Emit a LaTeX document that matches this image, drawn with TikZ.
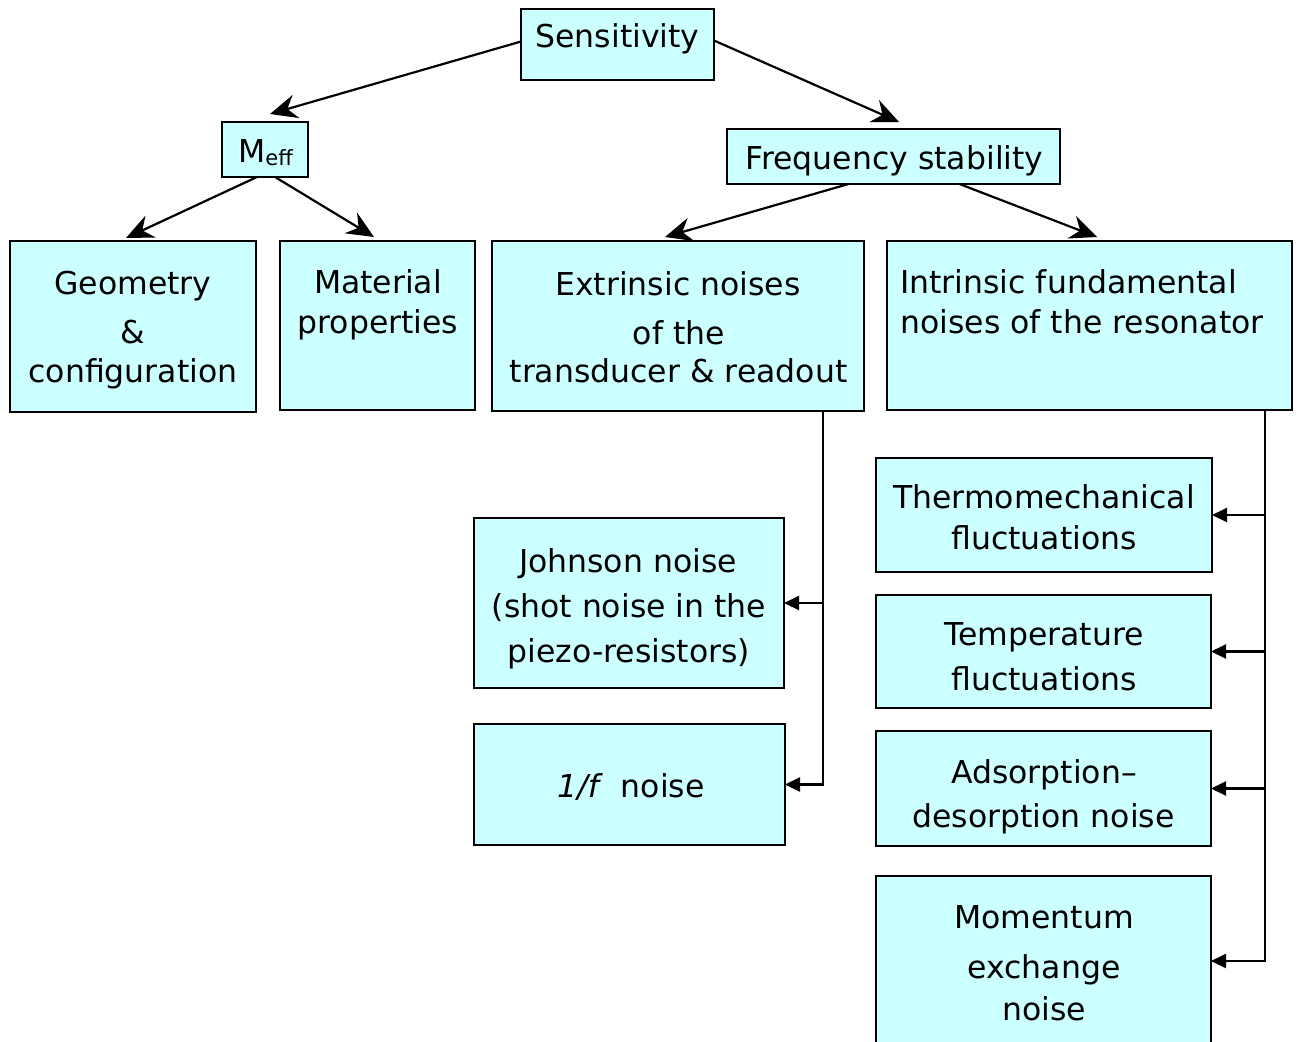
\documentclass[tikz,border=0pt]{standalone}
\usepackage{fontspec}
\setmainfont{DejaVu Sans}
\usetikzlibrary{arrows.meta,calc}
\definecolor{boxfill}{RGB}{204,255,255}
\begin{document}
\begin{tikzpicture}[x=1pt,y=-1pt,
  box/.style={draw=black,fill=boxfill,line width=2.5pt,inner sep=0pt,outer sep=0pt},
  lbl/.style={font=\fontsize{31.5}{38}\selectfont,inner sep=0pt,anchor=base},
  bigarrow/.style={line width=2.2pt,-{Stealth[length=27pt,width=24pt,inset=9pt]}},
  sidearrow/.style={line width=2.2pt,-{Triangle[length=15pt,width=14pt]}}]
\useasboundingbox (0,0) rectangle (1300,1041);
\clip (0,0) rectangle (1300,1041);

% boxes
\node[box,minimum width=193pt,minimum height=71pt]  (sens)   at (617.5,44.5) {};
\node[box,minimum width=86pt, minimum height=55pt]  (meff)   at (265,149.5) {};
\node[box,minimum width=333pt,minimum height=55pt]  (freq)   at (893.5,156.5) {};
\node[box,minimum width=246pt,minimum height=171pt] (geo)    at (133,326.5) {};
\node[box,minimum width=195pt,minimum height=169pt] (mat)    at (377.5,325.5) {};
\node[box,minimum width=372pt,minimum height=170pt] (ext)    at (678,326) {};
\node[box,minimum width=405pt,minimum height=169pt] (intr)   at (1089.5,325.5) {};
\node[box,minimum width=310pt,minimum height=170pt] (john)   at (629,603) {};
\node[box,minimum width=311pt,minimum height=121pt] (onef)   at (629.5,784.5) {};
\node[box,minimum width=336pt,minimum height=114pt] (thermo) at (1044,515) {};
\node[box,minimum width=335pt,minimum height=113pt] (temp)   at (1043.5,651.5) {};
\node[box,minimum width=335pt,minimum height=115pt] (ads)    at (1043.5,788.5) {};
\node[box,minimum width=335pt,minimum height=170pt] (mom)    at (1043.5,961) {};

% labels
\node[lbl] (sensT) at (617.5,48) {Sensitivity};
\node[lbl] (meffT) at (265.5,162) {M\raisebox{-3pt}{\fontsize{21}{24}\selectfont eff}};
\node[lbl] (freqT) at (894.5,169) {Frequency stability};
\node[lbl] (geoA) at (133,294) {Geometry};
\node[lbl] (geoB) at (133,343) {\&};
\node[lbl] (geoC) at (133,382) {configuration};
\node[lbl] (matA) at (378,293) {Material};
\node[lbl] (matB) at (378,333) {properties};
\node[lbl] (extA) at (678,295) {Extrinsic noises};
\node[lbl] (extB) at (679,344) {of the};
\node[lbl] (extC) at (678.5,382) {transducer \& readout};
\node[lbl,anchor=base west] (intA) at (900,293) {Intrinsic fundamental};
\node[lbl,anchor=base west] (intB) at (900,333) {noises of the resonator};
\node[lbl] (johnA) at (628,572) {Johnson noise};
\node[lbl] (johnB) at (629,617) {(shot noise in the};
\node[lbl] (johnC) at (629,662) {piezo-resistors)};
\node[lbl] (onefT) at (631,797) {{\itshape 1/f}\hspace{22pt}noise};
\node[lbl] (thermoA) at (1044,508) {Thermomechanical};
\node[lbl] (thermoB) at (1044,549) {fluctuations};
\node[lbl] (tempA) at (1044,645) {Temperature};
\node[lbl] (tempB) at (1044,690) {fluctuations};
\node[lbl] (adsA) at (1044,783) {Adsorption–};
\node[lbl] (adsB) at (1043.5,827) {desorption noise};
\node[lbl] (momA) at (1044,928) {Momentum};
\node[lbl] (momB) at (1044,978) {exchange};
\node[lbl] (momC) at (1044,1020) {noise};

% tree arrows
\draw[bigarrow] ([yshift=3pt]sens.west) -- ([xshift=5pt,yshift=8pt]meff.north);
\draw[bigarrow] ([yshift=4pt]sens.east) -- ([xshift=5.5pt,yshift=7pt]freq.north);
\draw[bigarrow] ([xshift=-8pt]meff.south) -- ([xshift=-7pt,yshift=3pt]geo.north);
\draw[bigarrow] ([xshift=10pt]meff.south) -- ([xshift=-3.5pt,yshift=4pt]mat.north);
\draw[bigarrow] ([xshift=-45pt]freq.south) -- ([xshift=-13pt,yshift=4pt]ext.north);
\draw[bigarrow] ([xshift=66pt]freq.south) -- ([xshift=7.5pt,yshift=4pt]intr.north);

% bus connectors
\coordinate (extbus) at ([xshift=145pt]ext.south);
\draw[sidearrow] (extbus) |- (onef.east);
\draw[sidearrow] (extbus |- john.east) -- (john.east);
\coordinate (intbus) at ([xshift=175.5pt]intr.south);
\draw[sidearrow] (intbus) |- (mom.east);
\draw[sidearrow] (intbus |- thermo.east) -- (thermo.east);
\draw[sidearrow] (intbus |- temp.east) -- (temp.east);
\draw[sidearrow] (intbus |- ads.east) -- (ads.east);
\end{tikzpicture}
\end{document}
